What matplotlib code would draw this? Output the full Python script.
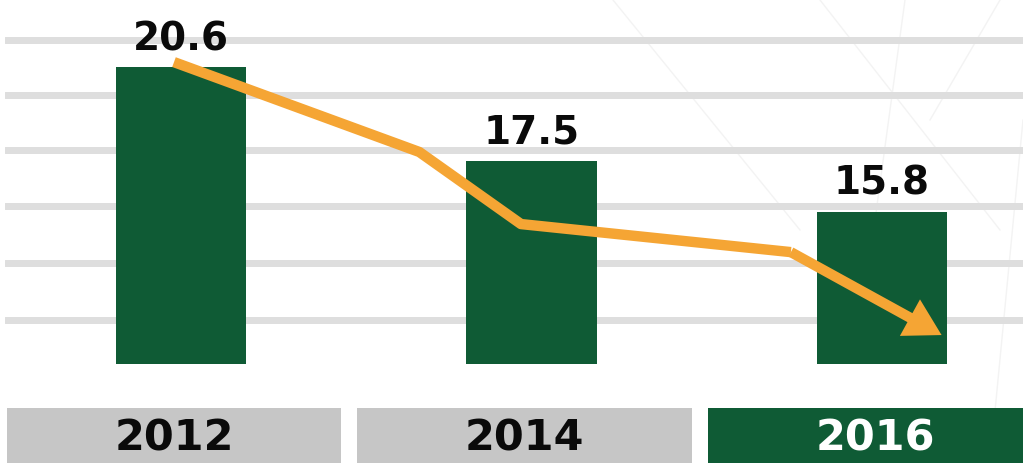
import matplotlib
matplotlib.use("Agg")
import matplotlib.pyplot as plt
from matplotlib.lines import Line2D

# data
years = ["2012", "2014", "2016"]
values = [20.6, 17.5, 15.8]
# decorative trend arrow (x in category units, y in value units)
trend_x = [-0.02, 0.68, 0.97, 1.74, 2.17]
trend_y = [20.77, 17.79, 15.40, 14.47, 11.72]
grid_levels = [21.50, 19.68, 17.86, 16.00, 14.11, 12.22]

green = "#0f5b35"
orange = "#f5a534"
grid_grey = "#dedede"
box_grey = "#c6c6c6"

W, H = 1023, 463
fig = plt.figure(figsize=(W / 100, H / 100), dpi=100)

# faint background diagonals
for x0, y0, x1, y1 in [(613, 0, 800, 230), (820, 0, 1000, 230), (905, 0, 860, 330),
                       (1000, 0, 930, 120), (1023, 120, 990, 463)]:
    fig.add_artist(Line2D([x0 / W, x1 / W], [1 - y0 / H, 1 - y1 / H],
                          color="#f3f3f3", lw=1, zorder=0))

xlim = (-181 / 350.5, (W - 181) / 350.5)
base = 10.76

# main chart axes: top of figure down to bar baseline (364 px)
ax = fig.add_axes([0, 1 - 364 / H, 1, 364 / H])
ax.patch.set_alpha(0)
ax.set_xlim(*xlim)
ax.set_ylim(base, 22.83)
ax.axis("off")

for g in grid_levels:
    ax.axhline(g, xmin=8 / W, xmax=1, color=grid_grey, lw=5, zorder=1)

x = range(len(years))
ax.bar(x, [v - base for v in values], bottom=base, width=0.371,
       color=green, zorder=2)

for i, v in enumerate(values):
    ax.text(i, v + 0.3, f"{v}", ha="center", va="bottom", fontsize=28,
            fontweight="heavy", color="#0a0a0a", zorder=4)

# trend line with arrow head
ax.plot(trend_x[:-1], trend_y[:-1], color=orange, lw=7.5,
        solid_joinstyle="round", solid_capstyle="butt", zorder=3)
ax.annotate("", xy=(trend_x[-1], trend_y[-1]), xytext=(trend_x[-2], trend_y[-2]),
            arrowprops=dict(arrowstyle="simple,head_length=1.3,head_width=1.5,tail_width=0.37",
                            mutation_scale=20, lw=0, color=orange,
                            shrinkA=0, shrinkB=0),
            zorder=3)

# year boxes along the bottom
bx = fig.add_axes([0, 0, 1, 55 / H])
bx.patch.set_alpha(0)
bx.set_xlim(*xlim)
bx.set_ylim(0, 1)
bx.axis("off")
box_colors = [box_grey, box_grey, green]
text_colors = ["#0a0a0a", "#0a0a0a", "white"]
for i, yr in enumerate(years):
    bx.bar(i - 0.02, 1.2, bottom=-0.2, width=0.955, color=box_colors[i])
    bx.text(i - 0.02, 0.45, yr, ha="center", va="center", fontsize=31,
            fontweight="heavy", color=text_colors[i])

fig.savefig("out.png", dpi=100)
